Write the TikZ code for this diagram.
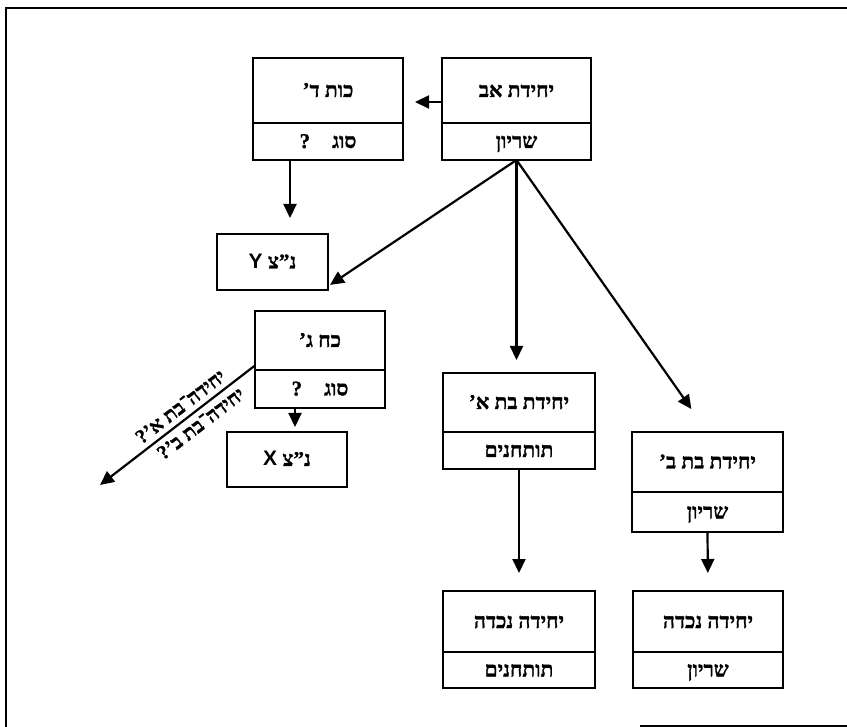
\documentclass[tikz,border=0pt]{standalone}
\usepackage{fontspec}
\setmainfont{Liberation Serif}
\newfontfamily\heb[Script=Hebrew, BoldFeatures={FakeBold=1.2}]{Liberation Serif}
\newfontfamily\latsans{Liberation Sans}
\TeXXeTstate=1
\usetikzlibrary{arrows.meta,calc}

\newcommand\twobox[8]{%
  \pgfmathsetmacro\bw{#4-#2}\pgfmathsetmacro\bh{#6-#3}%
  \node[boxline,draw,minimum width=\bw pt,minimum height=\bh pt,inner sep=0pt,outer sep=0pt] (#1) at ({(#2+#4)/2},{(#3+#6)/2}) {};
  \draw[boxline] (#2,#5) -- (#4,#5);
  \node[txt] (#1-t) at ({(#2+#4)/2},{(#3+#5)/2}) {\beginR #7\endR};
  \node[txt] (#1-s) at ({(#2+#4)/2},{(#5+#6)/2}) {\beginR #8\endR};
}
\newcommand\onebox[6]{%
  \pgfmathsetmacro\bw{#4-#2}\pgfmathsetmacro\bh{#5-#3}%
  \node[boxline,draw,minimum width=\bw pt,minimum height=\bh pt,inner sep=0pt,outer sep=0pt] (#1) at ({(#2+#4)/2},{(#3+#5)/2}) {};
  \node[txt] (#1-t) at ({(#2+#4)/2},{(#3+#5)/2}) {\beginR #6\endR};
}

\begin{document}
\begin{tikzpicture}[x=1pt,y=-1pt,
  boxline/.style={line width=2.2pt},
  arr/.style={line width=2.2pt, -{Triangle[length=14pt,width=13pt]}},
  txt/.style={font=\heb\bfseries\fontsize{21}{25}\selectfont, inner sep=0pt, text height=13pt, text depth=0pt},
  lbl/.style={font=\heb\bfseries\fontsize{20}{24}\selectfont, inner xsep=0pt, inner ysep=5pt, rotate=37.5}
]
\useasboundingbox (0,0) rectangle (847,727);
\fill[white] (0,0) rectangle (847,727);
% frame
\draw[line width=1.2pt] (847,8) -- (6,8) -- (6,727);
\draw[line width=1.2pt] (640,726) -- (847,726);

\twobox{AB}{442}{58}{591}{123}{160}{יחידת אב}{שריון}
\twobox{D}{253}{58}{403}{123}{160}{כות ד’}{סוג\hspace{22pt}?}
\onebox{Y}{217}{234}{328}{290}{נ”צ {\latsans\bfseries Y}}
\twobox{G}{255}{311}{385}{370}{408}{כח ג’}{סוג\hspace{22pt}?}
\onebox{X}{227}{432}{347}{487}{נ”צ {\latsans\bfseries X}}
\twobox{A1}{443}{373}{595}{432}{469}{יחידת בת א’}{תותחנים}
\twobox{B1}{632}{432}{783}{492}{532}{יחידת בת ב’}{שריון}
\twobox{GA}{443}{591}{595}{652}{688}{יחידה נכדה}{תותחנים}
\twobox{GB}{633}{591}{783}{652}{688}{יחידה נכדה}{שריון}

% connectors
\draw[arr, shorten >=12pt] ([yshift=7pt]AB.west) -- ([yshift=7pt]AB.west -| D.east);
\draw[arr, shorten >=16pt] ([xshift=-38pt]D.south) -- ([xshift=-38pt]D.south |- Y.north);
\draw[arr, shorten >=5pt] ([xshift=-25pt]G.south) -- ([xshift=-25pt]G.south |- X.north);
\draw[arr, shorten >=47pt] (AB.south) -- ([xshift=-29pt]G.north);
\draw[arr, shorten >=13pt] (AB.south) -- (AB.south |- A1.north);
\draw[arr, shorten >=28pt] (AB.south) -- (B1.north);
\draw[arr, shorten >=18pt] (A1.south) -- (GA.north);
\draw[arr, shorten >=18pt] (B1.south) -- (GB.north);

\coordinate (gfree) at (100,485);
\draw[arr] ([yshift=-6pt]G.west) -- (gfree)
  node[lbl, pos=0.43, anchor=south] (lblA) {\beginR יחידה־בת א’?\endR}
  node[lbl, pos=0.40, anchor=north] (lblB) {\beginR יחידה־בת ב’?\endR};
\end{tikzpicture}
\end{document}
